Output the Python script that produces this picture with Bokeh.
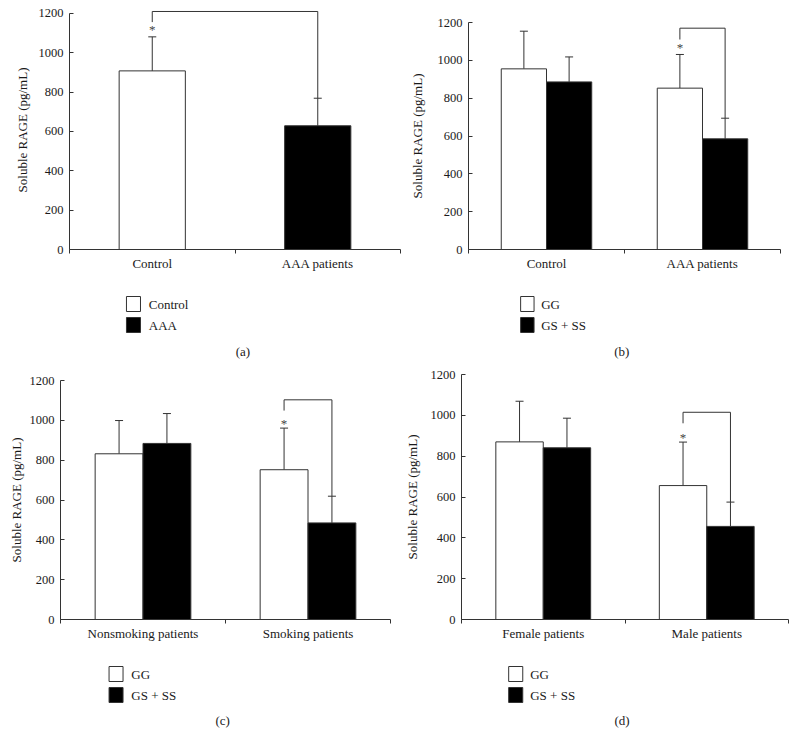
from bokeh.plotting import figure
from bokeh.models import (Range1d, FixedTicker, ColumnDataSource, Whisker, TeeHead)
from bokeh.layouts import column, row
from bokeh.core.properties import value
from bokeh.embed import file_html
from bokeh.resources import INLINE
import numpy as np

# ---------------- data ----------------
y_ticks = [0, 200, 400, 600, 800, 1000, 1200]
y_label = "Soluble RAGE (pg/mL)"

# (a)
a_categories = ["Control", "AAA patients"]
a_series = ["Control", "AAA"]
a_means = [908, 629]
a_sd = [173, 140]
a_bracket = {"top": 1210, "left_bottom": 1156, "star": 1119}

# (b)
b_categories = ["Control", "AAA patients"]
b_series = ["GG", "GS + SS"]
b_gg = [955, 853]
b_gg_sd = [199, 178]
b_gs = [886, 585]
b_gs_sd = [132, 109]
b_bracket = {"top": 1170, "left_bottom": 1110, "star": 1066}

# (c)
c_categories = ["Nonsmoking patients", "Smoking patients"]
c_series = ["GG", "GS + SS"]
c_gg = [832, 752]
c_gg_sd = [167, 209]
c_gs = [884, 485]
c_gs_sd = [150, 134]
c_bracket = {"top": 1103, "left_bottom": 1049, "star": 982}

# (d)
d_categories = ["Female patients", "Male patients"]
d_series = ["GG", "GS + SS"]
d_gg = [870, 656]
d_gg_sd = [199, 213]
d_gs = [841, 456]
d_gs_sd = [145, 119]
d_bracket = {"top": 1015, "left_bottom": 961, "star": 893}

panel_letters = ["(a)", "(b)", "(c)", "(d)"]

# ---------------- style ----------------
FONT = "Liberation Serif"
LINE = "#333333"
TEXT = "#1a1a1a"
FILLS = ["white", "black"]


def style_axes(p, ylab_standoff):
    yax = p.yaxis[0]
    yax.ticker = FixedTicker(ticks=y_ticks)
    yax.bounds = (0, 1200)
    yax.major_tick_in = 4
    yax.major_tick_out = 0
    yax.minor_tick_in = 0
    yax.minor_tick_out = 0
    yax.axis_label = y_label
    yax.axis_label_text_font = FONT
    yax.axis_label_text_font_size = "13px"
    yax.axis_label_text_font_style = "normal"
    yax.axis_label_text_color = TEXT
    yax.axis_label_standoff = ylab_standoff
    yax.major_label_standoff = 6
    for ax in (p.xaxis[0], yax):
        ax.axis_line_color = LINE
        ax.major_tick_line_color = LINE
        ax.minor_tick_line_color = LINE
        ax.major_label_text_font = FONT
        ax.major_label_text_font_size = "12.5px"
        ax.major_label_text_color = TEXT
    p.xaxis[0].major_label_text_font_size = "13px"
    p.grid.visible = False
    p.outline_line_color = None


def make_chart(cats, means_list, sd_list, bar_w, offsets, bracket, yend,
               width, height, left, right, top, bottom, ylab_standoff, colors=None):
    p = figure(width=width, height=height, x_range=Range1d(0, len(cats)),
               y_range=Range1d(0, yend), output_backend="svg",
               toolbar_location=None, min_border_left=left,
               min_border_right=right, min_border_top=top,
               min_border_bottom=bottom, background_fill_color="white",
               border_fill_color="white")
    centers = np.arange(len(cats)) + 0.5
    xax = p.xaxis[0]
    xax.ticker = FixedTicker(ticks=list(centers), minor_ticks=list(range(len(cats) + 1)))
    xax.major_label_overrides = {float(c): cat for c, cat in zip(centers, cats)}
    xax.major_tick_in = 0
    xax.major_tick_out = 0
    xax.minor_tick_in = 0
    xax.minor_tick_out = 4
    xax.major_label_standoff = 2
    style_axes(p, ylab_standoff)

    tops = []
    xs_all = []
    for k, (means, sds) in enumerate(zip(means_list, sd_list)):
        xs = centers + offsets[k]
        upper = [m + s for m, s in zip(means, sds)]
        fill = colors if colors is not None else [FILLS[k]] * len(means)
        src = ColumnDataSource(dict(x=xs, top=means, upper=upper, fill=fill))
        p.vbar(x="x", top="top", bottom=0, width=bar_w, source=src,
               fill_color="fill", line_color=LINE, line_width=1)
        p.add_layout(Whisker(source=src, base="x", lower="top", upper="upper",
                             dimension="height", line_color=LINE, line_width=1,
                             lower_head=None,
                             upper_head=TeeHead(size=8, line_color=LINE, line_width=1)))
        tops.append(upper)
        xs_all.append(xs)

    # significance bracket in the second category
    if len(means_list) == 1:
        xl, xr = xs_all[0][0], xs_all[0][1]
        right_bottom = tops[0][1]
    else:
        xl, xr = xs_all[0][1], xs_all[1][1]
        right_bottom = tops[1][1]
    p.line(x=[xl, xl, xr, xr],
           y=[bracket["left_bottom"], bracket["top"], bracket["top"], right_bottom],
           line_color=LINE, line_width=1)
    p.text(x=[xl], y=[bracket["star"]], text=["*"], text_align="center",
           text_baseline="middle", text_font=value(FONT), text_font_size="13px",
           text_color="#444444")
    return p


def make_legend(names, letter, width, height, sw_left, row_tops, text_x, letter_x, letter_y):
    p = figure(width=width, height=height, x_range=Range1d(0, width),
               y_range=Range1d(height, 0), output_backend="svg",
               toolbar_location=None, min_border=0)
    p.axis.visible = False
    p.grid.visible = False
    p.outline_line_color = None
    sw_w, sw_h = 17, 15
    for k, name in enumerate(names):
        t = row_tops[k]
        p.quad(left=[sw_left], right=[sw_left + sw_w], top=[t], bottom=[t + sw_h],
               fill_color=FILLS[k], line_color=LINE, line_width=1)
        p.text(x=[text_x], y=[t + sw_h / 2], text=[name], text_baseline="middle",
               text_align="left", text_font=value(FONT), text_font_size="13px",
               text_color=TEXT)
    p.text(x=[letter_x], y=[letter_y], text=[letter], text_baseline="middle",
           text_align="center", text_font=value(FONT), text_font_size="13px",
           text_color=TEXT)
    return p


pa = make_chart(a_categories, [a_means], [a_sd], 0.4, [0.0], a_bracket, 1215,
                401, 275, 69, 1, 10, 26, 6, colors=FILLS)
pb = make_chart(b_categories, [b_gg, b_gs], [b_gg_sd, b_gs_sd], 0.29,
                [-0.145, 0.145], b_bracket, 1200, 395, 275, 67, 16, 22, 26, 10)
pc = make_chart(c_categories, [c_gg, c_gs], [c_gg_sd, c_gs_sd], 0.29,
                [-0.145, 0.145], c_bracket, 1200, 401, 277, 60, 11, 14, 24, 3)
pd = make_chart(d_categories, [d_gg, d_gs], [d_gg_sd, d_gs_sd], 0.29,
                [-0.145, 0.145], d_bracket, 1200, 395, 277, 58, 8, 8, 24, 8)

la = make_legend(a_series, panel_letters[0], 401, 91, 69, [21, 42], 96, 210, 76)
lb = make_legend(b_series, panel_letters[1], 395, 91, 66, [21, 42], 92, 194, 76)
lc = make_legend(c_series, panel_letters[2], 401, 91, 59, [23, 44], 86, 197, 77)
ld = make_legend(d_series, panel_letters[3], 395, 91, 57, [23, 44], 83, 194, 77)

layout = column(row(column(pa, la), column(pb, lb)),
                row(column(pc, lc), column(pd, ld)))

open("out.html", "w").write(file_html(layout, INLINE))
